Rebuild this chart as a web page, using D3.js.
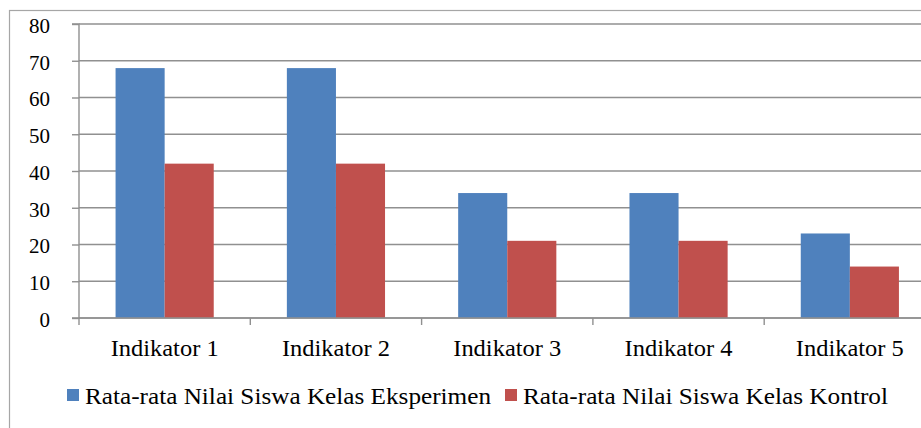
<!DOCTYPE html>
<html><head><meta charset="utf-8">
<script src="https://cdn.jsdelivr.net/npm/d3@7/dist/d3.min.js"></script>
</head><body>
<script>
const categories = ["Indikator 1","Indikator 2","Indikator 3","Indikator 4","Indikator 5"];
const seriesNames = ["Rata-rata Nilai Siswa Kelas Eksperimen","Rata-rata Nilai Siswa Kelas Kontrol"];
const eksperimen = [68,68,34,34,23];
const kontrol = [42,42,21,21,14];
const yTicks = [0,10,20,30,40,50,60,70,80];
const colors = ["#4F81BD","#C0504D"];

(function(){
const FONT='"Liberation Serif"';
const W=921,H=428;
d3.select("body").style("margin","0").style("background","#fff");
const svg=d3.select("body").append("svg").attr("width",W).attr("height",H).style("display","block");
svg.append("rect").attr("x",9.5).attr("y",10.5).attr("width",W+20).attr("height",H+20)
  .attr("fill","#fff").attr("stroke","#a6a6a6").attr("stroke-width",1.2);

const pl=79, pt=24, pb=318, catW=171.3;
const x=d3.scaleBand().domain(categories).range([pl,pl+catW*5]).paddingInner(0).paddingOuter(0);
const y=d3.scaleLinear().domain([0,80]).range([pb,pt]);
const xs=d3.scaleBand().domain([0,1]).range([0,x.bandwidth()]).paddingInner(0).paddingOuter(0.745);

svg.append("g").selectAll("line").data(yTicks).join("line")
  .attr("x1",pl).attr("x2",W+10).attr("y1",d=>y(d)).attr("y2",d=>y(d))
  .attr("stroke","#909090").attr("stroke-width",1.4);

const data=categories.map((c,i)=>({c,v:[eksperimen[i],kontrol[i]]}));
const g=svg.append("g").selectAll("g").data(data).join("g").attr("transform",d=>`translate(${x(d.c)},0)`);
g.selectAll("rect").data(d=>d.v.map((v,k)=>({v,k}))).join("rect")
  .attr("x",d=>xs(d.k)).attr("width",xs.bandwidth())
  .attr("y",d=>y(d.v)).attr("height",d=>pb-y(d.v))
  .attr("fill",d=>colors[d.k]);

const ya=svg.append("g").attr("transform",`translate(${pl},0)`)
  .call(d3.axisLeft(y).tickValues(yTicks).tickSize(7).tickPadding(22).tickFormat(d3.format("d")));
ya.attr("font-family",null);
ya.select(".domain").attr("stroke","#909090").attr("stroke-width",1.4).attr("d",`M-7,${pt}H0V${pb}H-7`);
ya.selectAll(".tick line").attr("stroke","#909090").attr("stroke-width",1.4);
ya.selectAll("text").style("font-family",FONT).attr("font-size",21).attr("fill","#000")
  .attr("dy","0.4em");

const xa=svg.append("g").attr("transform",`translate(0,${pb})`);
xa.append("line").attr("x1",pl).attr("x2",W+10).attr("stroke","#909090").attr("stroke-width",1.4);
const tickPos=d3.range(categories.length+1).map(i=>pl+i*catW);
xa.selectAll("line.t").data(tickPos).join("line").attr("class","t")
  .attr("x1",d=>d).attr("x2",d=>d).attr("y1",0).attr("y2",7).attr("stroke","#909090").attr("stroke-width",1.4);
xa.selectAll("text").data(categories).join("text")
  .attr("x",d=>x(d)+x.bandwidth()/2).attr("y",38).attr("text-anchor","middle")
  .style("font-family",FONT).attr("font-size",23).attr("fill","#000")
  .attr("data-w",108).text(d=>d);

const leg=svg.append("g");
const legX=[67,505];
seriesNames.forEach((n,i)=>{
  leg.append("rect").attr("x",legX[i]).attr("y",389).attr("width",12).attr("height",12).attr("fill",colors[i]);
  leg.append("text").attr("x",legX[i]+18).attr("y",404)
    .style("font-family",FONT).attr("font-size",23).attr("fill","#000")
    .attr("data-w",i===0?406:365).text(n);
});

// force font layout, then fit widths measured in the reference
svg.selectAll("text").each(function(){
  const len=this.getComputedTextLength();
  const target=+this.getAttribute("data-w");
  if(target && Math.abs(len-target)>2){
    this.setAttribute("textLength",target);
    this.setAttribute("lengthAdjust","spacingAndGlyphs");
  }
});
})();
</script>
</body></html>
